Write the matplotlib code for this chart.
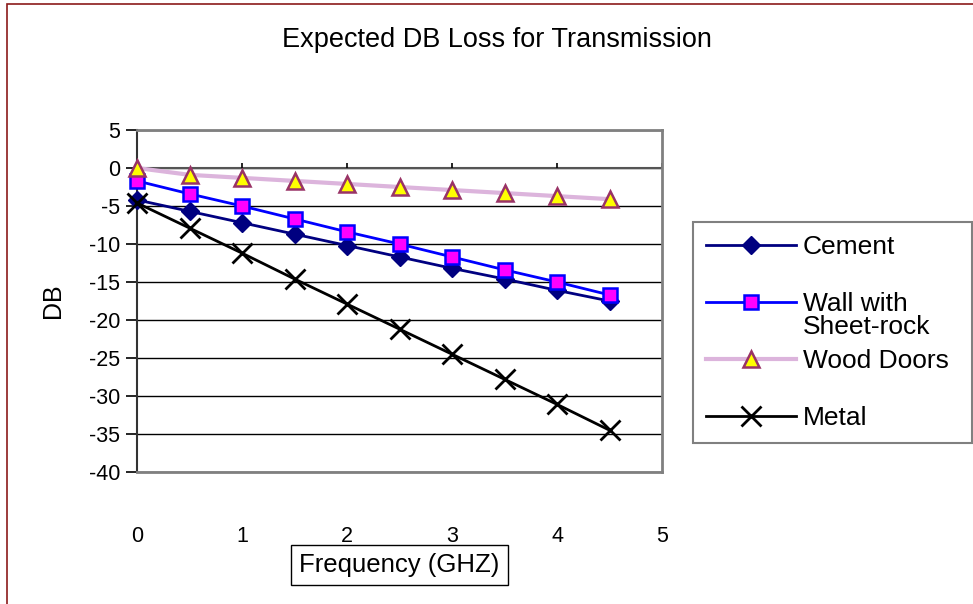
import matplotlib.pyplot as plt
from matplotlib.patches import Rectangle
from matplotlib.text import Annotation

plt.rcParams['font.family'] = ['Liberation Sans', 'DejaVu Sans']
plt.rcParams['axes.unicode_minus'] = False

freq = [0, 0.5, 1, 1.5, 2, 2.5, 3, 3.5, 4, 4.5]
cement = [-4.2, -5.7, -7.2, -8.7, -10.2, -11.7, -13.2, -14.6, -16.1, -17.5]
wall = [-1.7, -3.4, -5.0, -6.7, -8.4, -10.0, -11.7, -13.4, -15.0, -16.7]
wood = [0.0, -0.9, -1.3, -1.7, -2.1, -2.5, -2.9, -3.3, -3.7, -4.1]
metal = [-4.6, -7.9, -11.2, -14.6, -17.9, -21.2, -24.5, -27.8, -31.1, -34.5]
xticks = [0, 1, 2, 3, 4, 5]
yticks = [5, 0, -5, -10, -15, -20, -25, -30, -35, -40]

fig = plt.figure(figsize=(9.73, 6.04), dpi=100)
ax = fig.add_axes([137/973, 1-472/604, 525/973, 342/604])

# chart border
fig.patches.append(Rectangle((7/973, -0.05), 1.1, 1-4/604+0.05, transform=fig.transFigure,
                             fill=False, edgecolor='#8b1a1a', linewidth=1.2))

l1, = ax.plot(freq, cement, color='#000080', lw=2, marker='D', ms=9.5,
              mfc='#000080', mec='#000080', clip_on=False, zorder=4)
l2, = ax.plot(freq, wall, color='#0000ff', lw=2, marker='s', ms=10,
              mfc='#ff00ff', mec='#0000ff', mew=1.8, clip_on=False, zorder=4)
l3, = ax.plot(freq, wood, color='#dcb4dc', lw=3, marker='^', ms=12,
              mfc='#ffff00', mec='#993366', mew=1.8, clip_on=False, zorder=4)
l4, = ax.plot(freq, metal, color='black', lw=2, marker='x', ms=14, mew=2,
              clip_on=False, zorder=5)

ax.set_xlim(0, 5)
ax.set_ylim(-40, 5)
ax.set_yticks(yticks)
ax.set_xticks(xticks)
ax.grid(axis='y', color='black', lw=1)
ax.axhline(0, color='#555555', lw=1.5, zorder=2)
ax.vlines(xticks[1:], 0, 0.7, color='black', lw=1.2)

for s in ['top', 'right', 'bottom']:
    ax.spines[s].set_color('#808080')
    ax.spines[s].set_linewidth(2)
ax.spines['left'].set_color('#333333')
ax.spines['left'].set_linewidth(1.5)
ax.tick_params(axis='y', length=8, width=1.2, labelsize=15.5, pad=4)
ax.tick_params(axis='x', length=0, labelsize=15.5, pad=39)

ax.set_ylabel('DB', fontsize=18, labelpad=17)
ax.set_xlabel('Frequency (GHZ)', fontsize=18.5, labelpad=4,
              bbox=dict(facecolor='white', edgecolor='black', lw=1, pad=6))
fig.text(497/973, 1-40/604, 'Expected DB Loss for Transmission', fontsize=19.5,
         ha='center', va='center')

leg = fig.legend([l1, l2, l3, l4], ['Cement', 'Wall with', 'Wood Doors', 'Metal'],
                 loc='upper left', bbox_to_anchor=(693/973, 1-222/604, 279/973, 0),
                 mode='expand', fontsize=19, frameon=True, fancybox=False,
                 edgecolor='#808080', framealpha=1, handlelength=3.4,
                 handletextpad=0.25, labelspacing=1.25, borderpad=0.5, borderaxespad=0)
leg.get_frame().set_linewidth(1.5)
fig.canvas.draw()
sub = Annotation('Sheet-rock', xy=(0, 0), xycoords=leg.get_texts()[1],
                 xytext=(0, 1), textcoords='offset points', va='top', ha='left',
                 fontsize=19, zorder=10)
fig.add_artist(sub)

fig.savefig('out.png', dpi=100)
